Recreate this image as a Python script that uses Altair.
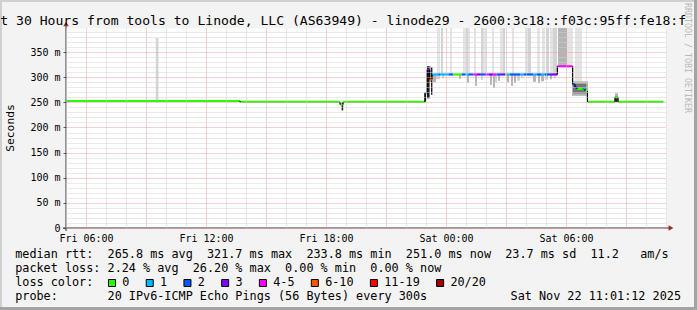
import altair as alt
import pandas as pd

MONO = "DejaVu Sans Mono"
PX0, PY0 = 66, 28          # plot-area origin on the page (layout)
NB = "\u00a0"

# ---------------- text ----------------
title_text = "t 30 Hours from tools to Linode, LLC (AS63949) - linode29 - 2600:3c18::f03c:95ff:fe18:f"
side_text = "RRDTOOL / TOBI OETIKER"
y_title = "Seconds"
x_tick_hours = [1, 7, 13, 19, 25]
x_tick_labels = ["Fri 06:00", "Fri 12:00", "Fri 18:00", "Sat 00:00", "Sat 06:00"]
legend_rows = [
    "median rtt:  265.8 ms avg  321.7 ms max  233.8 ms min  251.0 ms now  23.7 ms sd  11.2   am/s",
    "packet loss: 2.24 % avg  26.20 % max  0.00 % min  0.00 % now",
    "loss color:",
    "probe:       20 IPv6-ICMP Echo Pings (56 Bytes) every 300s",
]
stamp_text = "Sat Nov 22 11:01:12 2025"

# ---------------- loss colours ----------------
loss_labels = ["0", "1", "2", "3", "4-5", "6-10", "11-19", "20/20"]
loss_colors = ["#26ff00", "#00b8ff", "#0059ff", "#7e00ff", "#ff00ff", "#ff5500", "#ff0000", "#a10000"]

# ---------------- median rtt (hours since Fri 05:00) ----------------
med_start = [0.00, 8.70, 13.70, 13.85, 17.95, 18.05, 18.18,
             18.30, 18.62, 18.70, 19.12, 19.37, 19.78, 19.95, 20.12, 20.37, 20.53,
             20.70, 20.95, 21.12, 21.37, 21.53, 21.70, 21.95, 22.03, 22.20, 22.70,
             22.87, 23.37, 23.53, 23.78, 23.95, 24.20,
             24.57, 25.33, 25.45, 25.55, 25.85, 25.95, 26.07, 27.45, 27.60]
med_last_end = 29.87
med_val = [252.7, 250.8, 246.0, 250.8, 268.0, 315.0, 296.0,
           305.5, 305.5, 305.5, 305.5, 305.5, 305.5, 305.5, 305.5, 305.5, 305.5,
           305.5, 305.5, 305.5, 305.5, 305.5, 305.5, 305.5, 305.5, 305.5, 305.5,
           305.5, 305.5, 305.5, 305.5, 305.5, 305.5,
           321.7, 286.0, 280.0, 277.0, 276.0, 273.0, 251.0, 260.0, 251.0]
med_loss = ["0", "0", "0", "0", "1", "3", "6-10",
            "1", "2", "1", "2", "0", "2", "1", "2", "4-5", "3",
            "2", "4-5", "3", "4-5", "2", "3", "0", "1", "2", "1",
            "2", "1", "2", "1", "2", "3",
            "4-5", "2", "2", "0", "1", "0", "0", "0", "0"]

# ---------------- smoke (ping spread): start h, end h, low, high, shade ----------------
smoke_start = [4.49,
               18.55, 18.75, 19.20, 19.85, 20.00, 20.10, 20.40, 20.75, 20.85, 21.30, 21.70,
               21.85, 22.30, 22.95, 23.10, 23.55, 23.80, 24.00, 24.20, 24.35, 24.60, 25.05, 25.45,
               18.35, 18.50, 18.80, 19.65, 20.05, 20.45, 20.75, 21.20, 21.35, 21.45, 21.60,
               22.05, 22.25, 22.40, 22.55, 22.75, 23.35, 23.60, 23.75, 23.95, 24.20, 24.40,
               25.30, 25.35, 27.45, 27.47,
               13.78, 17.93, 18.05, 18.18, 18.25]
smoke_end = [4.62,
             18.70, 18.85, 19.30, 20.00, 20.10, 20.20, 20.50, 20.85, 21.05, 21.40, 21.85,
             21.95, 22.40, 23.10, 23.25, 23.70, 23.95, 24.15, 24.35, 24.55, 25.05, 25.35, 25.80,
             18.50, 18.70, 18.90, 19.75, 20.15, 20.55, 20.85, 21.30, 21.45, 21.55, 21.70,
             22.15, 22.35, 22.50, 22.70, 22.85, 23.50, 23.70, 23.90, 24.10, 24.30, 24.50,
             26.10, 26.05, 27.60, 27.57,
             13.86, 18.00, 18.18, 18.25, 18.32]
smoke_lo = [253,
            306, 306, 306, 306, 306, 306, 306, 306, 306, 306, 306,
            306, 306, 306, 306, 306, 306, 306, 306, 306, 322, 322, 282,
            290, 296, 298, 297, 289, 283, 295, 285, 279, 290, 293,
            290, 283, 289, 293, 298, 291, 288, 292, 295, 296, 298,
            263, 268, 251, 251,
            234, 252, 258, 290, 265]
smoke_hi = [378,
            398, 398, 398, 398, 398, 398, 398, 398, 398, 398, 398,
            398, 398, 398, 398, 398, 398, 398, 398, 398, 398, 398, 398,
            305, 305, 305, 305, 305, 305, 305, 305, 305, 305, 305,
            305, 305, 305, 305, 305, 305, 305, 305, 305, 305, 305,
            292, 287, 268, 262,
            250, 270, 322, 322, 320]
smoke_shade = [2,
               1, 2, 1, 1, 2, 1, 1, 2, 1, 1, 1,
               2, 1, 1, 2, 1, 1, 2, 1, 2, 3, 1, 1,
               3, 2, 2, 3, 3, 3, 2, 3, 3, 2, 3,
               3, 3, 3, 2, 2, 3, 3, 3, 2, 3, 2,
               3, 4, 3, 5,
               5, 5, 5, 3, 5]
shade_colors = {1: "#e4e4e4", 2: "#d3d3d3", 3: "#b4b4b4", 4: "#747474", 5: "#1e1e1e"}

# ---------------- tables ----------------
loss_col = dict(zip(loss_labels, loss_colors))
med_end = med_start[1:] + [med_last_end]
seg_df = pd.DataFrame({"h0": med_start, "h1": med_end, "v": med_val,
                       "c": [loss_col[l] for l in med_loss]})
conn_rows = []
for i in range(1, len(med_start)):
    if med_val[i] != med_val[i - 1]:
        conn_rows.append({"h": med_start[i], "a": med_val[i - 1], "b": med_val[i]})
conn_df = pd.DataFrame(conn_rows)
smoke_df = pd.DataFrame({"h0": smoke_start, "h1": smoke_end, "lo": smoke_lo, "hi": smoke_hi,
                         "c": [shade_colors[s] for s in smoke_shade], "s": smoke_shade})
smoke_df = smoke_df.sort_values("s", kind="stable")

# ---------------- scales & axes ----------------
MAJ = "#e8a0a0"
MINC = "#d2d2d2"
xs = alt.Scale(domain=[0, 30], nice=False, zero=False)
ys = alt.Scale(domain=[0, 398], nice=False, zero=False)

xexpr = "''"
for h, lab in reversed(list(zip(x_tick_hours, x_tick_labels))):
    xexpr = f"datum.value == {h} ? '{lab}' : ({xexpr})"

xaxis = alt.Axis(values=list(range(0, 31)), grid=True,
                 gridColor={"condition": {"test": "datum.value % 3 == 1", "value": MAJ}, "value": MINC},
                 gridDash=[1, 1], gridOpacity=1, gridWidth=1,
                 ticks=False, domain=False, labelExpr=xexpr, labelFont=MONO, labelFontSize=10,
                 labelColor="#000", labelPadding=5, labelOverlap=False, labelFlush=False,
                 title=None, zindex=1)
yexpr = (f"datum.value == 0 ? '0{NB}{NB}' : (datum.value % 50 == 0 ? datum.value + '{NB}m' : '')")
yaxis = alt.Axis(values=list(range(0, 400, 10)), grid=True,
                 gridColor={"condition": {"test": "datum.value % 50 == 0", "value": MAJ}, "value": MINC},
                 gridDash=[1, 1], gridOpacity=1, gridWidth=1,
                 ticks=True, tickSize=3,
                 tickColor="#555",
                 tickOpacity={"condition": {"test": "datum.value % 50 == 0", "value": 1}, "value": 0},
                 domain=False, labelExpr=yexpr, labelFont=MONO, labelFontSize=10, labelColor="#000",
                 labelPadding=3, labelOverlap=False, labelFlush=False, title=None, zindex=1)

smoke = alt.Chart(smoke_df).mark_rect(strokeWidth=0, clip=True).encode(
    x=alt.X("h0:Q", scale=xs, axis=xaxis), x2="h1:Q",
    y=alt.Y("lo:Q", scale=ys, axis=yaxis), y2="hi:Q",
    color=alt.Color("c:N", scale=None))
segs = alt.Chart(seg_df).mark_rule(strokeWidth=2.2, clip=True).encode(
    x=alt.X("h0:Q", scale=xs, axis=xaxis), x2="h1:Q",
    y=alt.Y("v:Q", scale=ys, axis=yaxis),
    color=alt.Color("c:N", scale=None))
conns = alt.Chart(conn_df).mark_rule(strokeWidth=1.3, color="#000", clip=True).encode(
    x=alt.X("h:Q", scale=xs, axis=xaxis),
    y=alt.Y("a:Q", scale=ys, axis=yaxis), y2="b:Q")

layers = [smoke, segs, conns]


def one():
    return pd.DataFrame({"t": [""]})


def txt(s, x, y, size, align="left", color="#000", angle=0, baseline="alphabetic"):
    return alt.Chart(pd.DataFrame({"t": [s.replace(" ", NB)]})).mark_text(
        align=align, baseline=baseline, font=MONO, fontSize=size, color=color, angle=angle
    ).encode(text="t:N", x=alt.value(x - PX0), y=alt.value(y - PY0))


def hrule(x1, x2, y, color, w):
    return alt.Chart(one()).mark_rule(color=color, strokeWidth=w).encode(
        x=alt.value(x1 - PX0), x2=alt.value(x2 - PX0), y=alt.value(y - PY0))


def vrule(x, y1, y2, color, w):
    return alt.Chart(one()).mark_rule(color=color, strokeWidth=w).encode(
        x=alt.value(x - PX0), y=alt.value(y1 - PY0), y2=alt.value(y2 - PY0))


# axes lines and arrows
AXC = "#333333"
ARROW = "#9b2a2a"
layers += [
    hrule(63, 669, 228, AXC, 1),
    vrule(66, 231, 26, AXC, 1),
    alt.Chart(one()).mark_point(shape="triangle-right", filled=True, size=30, color=ARROW, opacity=1).encode(
        x=alt.value(671 - PX0), y=alt.value(228 - PY0)),
    alt.Chart(one()).mark_point(shape="triangle-up", filled=True, size=30, color=ARROW, opacity=1).encode(
        x=alt.value(66 - PX0), y=alt.value(24 - PY0)),
]

# frame
layers += [
    hrule(0, 697, 1, "#d0d0d0", 2),
    vrule(1, 0, 310, "#d0d0d0", 2),
    hrule(0, 697, 308.5, "#a3a3a3", 3),
    vrule(695.5, 0, 310, "#a3a3a3", 3),
]

# titles
layers += [
    txt(title_text, 0.3, 24.5, 13.1),
    txt(side_text, 686.5, 3, 8.3, color="#b9b9b9", angle=90, baseline="middle"),
    txt(y_title, 10.5, 128, 11.3, align="center", angle=270, baseline="middle"),
]

# legend rows
row_base = [258.2, 272.1, 286.0, 299.9]
for s, yb in zip(legend_rows, row_base):
    layers.append(txt(s, 15.2, yb, 11.8))
layers.append(txt(stamp_text, 681, row_base[3], 11.8, align="right"))

CW = 7.12
bx = 108.0
for lab, col in zip(loss_labels, loss_colors):
    layers.append(alt.Chart(one()).mark_rect(fill=col, stroke="#000", strokeWidth=1).encode(
        x=alt.value(bx + 0.5 - PX0), x2=alt.value(bx + 7.5 - PX0),
        y=alt.value(279.5 - PY0), y2=alt.value(286.5 - PY0)))
    layers.append(txt(lab, bx + 14.3, row_base[2], 11.8))
    bx = bx + 15 + len(lab) * CW + 15.6

chart = alt.layer(*layers).properties(
    width=600, height=200,
    padding={"left": 66, "top": 28, "right": 31, "bottom": 82},
    autosize=alt.AutoSizeParams(type="none"),
    background="#f3f3f3",
).configure_view(fill="white", stroke="transparent")

chart.save("out.html", embed_options={"renderer": "svg", "actions": False})
